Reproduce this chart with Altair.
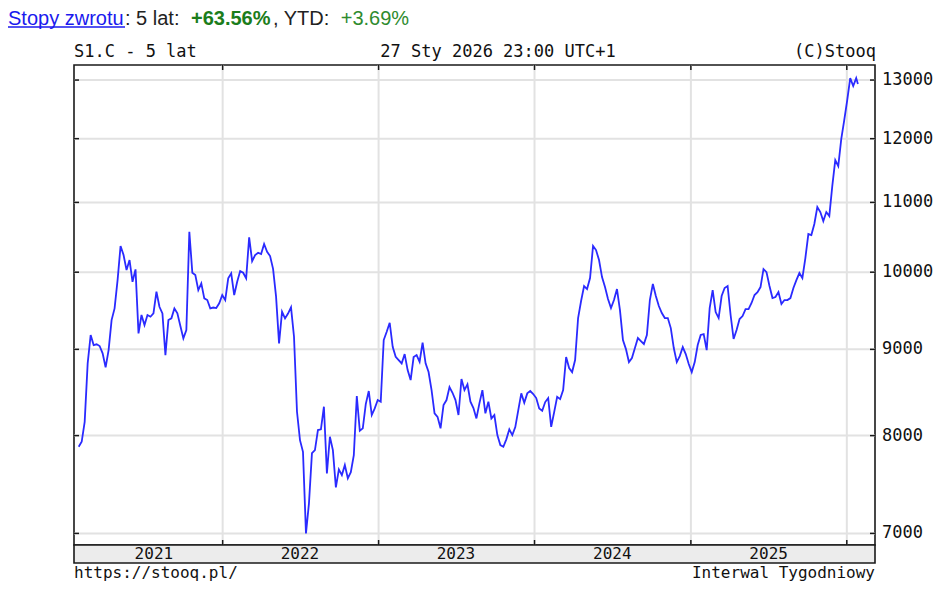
import altair as alt
import pandas as pd

# ---------------- data ----------------
first_week = "2021-01-29"
n_weeks = 261
last_date = "2026-01-27"

close = [
    7880, 7933, 8152, 8829, 9178, 9053, 9062, 9041, 8951, 8781,
    8991, 9367, 9518, 9893, 10364, 10237, 10029, 10167, 9870, 10039,
    9199, 9432, 9304, 9432, 9410, 9453, 9737, 9539, 9453, 8930,
    9367, 9389, 9518, 9453, 9291, 9136, 9240, 10568, 9992, 9961,
    9759, 9849, 9649, 9627, 9518, 9529, 9522, 9584, 9693, 9627,
    9916, 9984, 9693, 9870, 10015, 9992, 9916, 10488, 10153, 10237,
    10269, 10251, 10392, 10283, 10223, 10046, 9671, 9074, 9474, 9389,
    9451, 9531, 9156, 8265, 7951, 7825, 7000, 7293, 7811, 7843,
    8061, 8069, 8322, 7598, 7987, 7843, 7454, 7639, 7580, 7684,
    7547, 7611, 7790, 8444, 8053, 8080, 8352, 8502, 8228, 8303,
    8398, 8379, 9115, 9219, 9333, 9032, 8909, 8869, 8829, 8942,
    8749, 8630, 8906, 8930, 8849, 9082, 8829, 8725, 8513, 8247,
    8208, 8080, 8341, 8398, 8549, 8482, 8398, 8228, 8642, 8513,
    8580, 8379, 8307, 8190, 8360, 8513, 8247, 8379, 8190, 8228,
    8006, 7897, 7879, 7959, 8069, 8006, 8094, 8284, 8475, 8367,
    8475, 8502, 8467, 8421, 8303, 8276, 8375, 8421, 8097, 8261,
    8436, 8409, 8513, 8906, 8773, 8725, 8869, 9393, 9614, 9813,
    9772, 9920, 10364, 10307, 10167, 9934, 9799, 9640, 9522, 9627,
    9772, 9496, 9115, 9003, 8845, 8893, 9016, 9140, 9103, 9066,
    9178, 9627, 9840, 9680, 9548, 9457, 9393, 9393, 9265, 9016,
    8845, 8918, 9028, 8942, 8821, 8725, 8845, 9053, 9178, 9190,
    8991, 9522, 9759, 9470, 9393, 9680, 9786, 9813, 9432, 9128,
    9240, 9380, 9419, 9509, 9509, 9588, 9693, 9732, 9799, 10043,
    10001, 9813, 9653, 9666, 9732, 9575, 9627, 9627, 9653, 9786,
    9893, 9988, 9920, 10195, 10535, 10521, 10680, 10931, 10856, 10723,
    10856, 10797, 11248, 11655, 11560, 11993, 12309, 12650, 13035, 12894,
    13035, 12929,
]

price_ticks = [7000, 8000, 9000, 10000, 11000, 12000, 13000]
year_starts = ["2022-01-01", "2023-01-01", "2024-01-01", "2025-01-01", "2026-01-01"]
year_labels = ["2021", "2022", "2023", "2024", "2025"]
year_label_dates = ["2021-07-24", "2022-07-01", "2023-07-01", "2024-07-01", "2025-07-02"]

header_left = "S1.C - 5 lat"
header_mid = "27 Sty 2026 23:00 UTC+1"
header_right = "(C)Stooq"
footer_left = "https://stooq.pl/"
footer_right = "Interwal Tygodniowy"
title_link = "Stopy zwrotu"
title_a = ": 5 lat: "
title_b = "+63.56%"
title_c = ", YTD: "
title_d = "+3.69%"

# ---------------- tables ----------------
dates = list(pd.date_range(first_week, periods=n_weeks, freq="W-FRI").strftime("%Y-%m-%d")) + [last_date]
df = pd.DataFrame({"date": dates, "close": close})
df_prices = pd.DataFrame({"p": price_ticks})
df_years = pd.DataFrame({"date": year_starts})
df_ylab = pd.DataFrame({"date": year_label_dates, "label": year_labels})
one = pd.DataFrame({"k": [0]})

W, H = 801, 480
BAR = 18
MONO = "DejaVu Sans Mono"
MSIZE = 17
SANS = "Liberation Sans"
GRID = "#e2e2e2"
INK = "#1a1a1a"

xscale = alt.Scale(domain=[alt.DateTime(year=2021, month=1, date=18),
                           alt.DateTime(year=2026, month=3, date=8)])
yscale = alt.Scale(type="log", domain=[6890, 13270], nice=False, zero=False)

X = alt.X("date:T", scale=xscale, axis=None)
YP = alt.Y("p:Q", scale=yscale, axis=None)

hgrid = alt.Chart(df_prices).mark_rule(color=GRID, strokeWidth=2).encode(
    y=YP, x=alt.value(0), x2=alt.value(W))
vgrid = alt.Chart(df_years).mark_rule(color=GRID, strokeWidth=2).encode(
    x=X, y=alt.value(0), y2=alt.value(H))

line = alt.Chart(df).mark_line(color="#2a2aff", strokeWidth=1.8).encode(
    x=X, y=alt.Y("close:Q", scale=yscale, axis=None))

ylabels = alt.Chart(df_prices).mark_text(font=MONO, fontSize=MSIZE, color="#111",
                                         align="left", baseline="middle").encode(
    y=YP, x=alt.value(W + 7), text=alt.Text("p:Q", format="d"))

ytick_l = alt.Chart(df_prices).mark_rule(color=INK, strokeWidth=1.5).encode(
    y=YP, x=alt.value(0), x2=alt.value(5))
ytick_r = alt.Chart(df_prices).mark_rule(color=INK, strokeWidth=1.5).encode(
    y=YP, x=alt.value(W - 5), x2=alt.value(W))
xtick_t = alt.Chart(df_years).mark_rule(color=INK, strokeWidth=1.5).encode(
    x=X, y=alt.value(0), y2=alt.value(5))
xtick_b = alt.Chart(df_years).mark_rule(color=INK, strokeWidth=1.5).encode(
    x=X, y=alt.value(H - 5), y2=alt.value(H))

bar = alt.Chart(one).mark_rect(fill="#ececec", stroke=INK, strokeWidth=1.6).encode(
    x=alt.value(0), x2=alt.value(W), y=alt.value(H), y2=alt.value(H + BAR))
bar_text = alt.Chart(df_ylab).mark_text(font=MONO, fontSize=16, color="#111",
                                        align="center", baseline="middle").encode(
    x=X, y=alt.value(H + BAR / 2), text="label:N")


def label(txt, x, y, align="left", font=MONO, size=MSIZE, color="#111", weight="normal"):
    return alt.Chart(one).mark_text(text=txt, font=font, fontSize=size, color=color,
                                    align=align, baseline="alphabetic",
                                    fontWeight=weight).encode(x=alt.value(x), y=alt.value(y))


texts = [
    label(header_left, 0, -8.5),
    label(header_mid, 424, -8.5, align="center"),
    label(header_right, W + 1, -8.5, align="right"),
    label(footer_left, 0, 512.5, size=16),
    label(footer_right, W, 512.5, align="right", size=16),
    label(title_link, -66, -40, font=SANS, size=20, color="#1a1aee"),
    label(title_a, 51, -40, font=SANS, size=20, color="#222"),
    label(title_b, 117, -40, font=SANS, size=20, color="#1b7d1b", weight="bold"),
    label(title_c, 199, -40, font=SANS, size=20, color="#222"),
    label(title_d, 266.7, -40, font=SANS, size=20, color="#2e8b2e"),
]
underline = alt.Chart(one).mark_rule(color="#1a1aee", strokeWidth=1.3).encode(
    x=alt.value(-66), x2=alt.value(51), y=alt.value(-38), y2=alt.value(-38))

chart = alt.layer(
    hgrid, vgrid, line, ytick_l, ytick_r, xtick_t, xtick_b, bar, bar_text, ylabels,
    underline, *texts
).properties(
    width=W, height=H,
    autosize=alt.AutoSizeParams(type="none"),
    padding={"left": 66, "top": 57, "right": 59, "bottom": 36},
    background="white",
).configure_view(stroke=INK, strokeWidth=1.6)

chart.save("out.html", embed_options={"renderer": "svg", "actions": False})
